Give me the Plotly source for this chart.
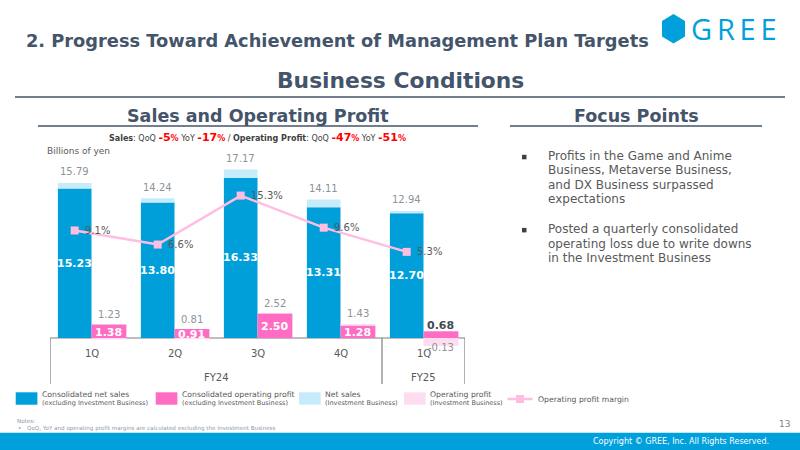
import plotly.graph_objects as go

# ---------------- data ----------------
quarters = ["1Q", "2Q", "3Q", "4Q", "1Q"]
fiscal_years = ["FY24", "FY25"]
fy_quarter_counts = [4, 1]
sales_ex_inv = [15.23, 13.80, 16.33, 13.31, 12.70]     # Consolidated net sales (excl. Investment)
sales_total = [15.79, 14.24, 17.17, 14.11, 12.94]      # incl. Investment Business
op_ex_inv = [1.38, 0.91, 2.50, 1.28, 0.68]             # Consolidated operating profit (excl. Investment)
op_total = [1.23, 0.81, 2.52, 1.43, -0.13]             # incl. Investment Business
op_margin = [9.1, 6.6, 15.3, 9.6, 5.3]                 # Operating profit margin (%)

focus_points = [
    ["Profits in the Game and Anime", "Business, Metaverse Business,",
     "and DX Business surpassed", "expectations"],
    ["Posted a quarterly consolidated", "operating loss due to write downs",
     "in the Investment Business"],
]

# ---------------- style ----------------
W, H = 800, 450
FONT = "DejaVu Sans"
DARK_BLUE = "#009FDA"
LIGHT_BLUE = "#C6ECFB"
PINK = "#FF6CC4"
LIGHT_PINK = "#FFDDF0"
LINE_PINK = "#FFBDE2"
SLATE = "#44546A"
TXT = "#595959"
LBL_GRAY = "#8C939C"
GREE_BLUE = "#00A0DC"


def px(x):
    return x / W


def py(y):
    return 1 - y / H


xs = list(range(len(quarters)))
SALES_OFF, SALES_W = -0.405, 0.405
OP_OFF, OP_W = 0.0, 0.42
sales_x = [i + SALES_OFF + SALES_W / 2 for i in xs]
op_x = [i + OP_OFF + OP_W / 2 for i in xs]
sales_inv = [round(t - e, 2) for t, e in zip(sales_total, sales_ex_inv)]
op_inv = [round(t - e, 2) for t, e in zip(op_total, op_ex_inv)]
op_inv_base = [e if v >= 0 else 0 for e, v in zip(op_ex_inv, op_inv)]

fig = go.Figure()
fig.add_bar(x=xs, y=sales_ex_inv, offset=SALES_OFF, width=SALES_W,
            marker=dict(color=DARK_BLUE, line_width=0), hoverinfo="skip")
fig.add_bar(x=xs, y=sales_inv, base=sales_ex_inv, offset=SALES_OFF, width=SALES_W,
            marker=dict(color=LIGHT_BLUE, line_width=0), hoverinfo="skip")
fig.add_bar(x=xs, y=op_ex_inv, offset=OP_OFF, width=OP_W,
            marker=dict(color=PINK, line_width=0), hoverinfo="skip")
fig.add_bar(x=xs, y=op_inv, base=op_inv_base, offset=OP_OFF, width=OP_W,
            marker=dict(color=LIGHT_PINK, line_width=0), hoverinfo="skip")
fig.add_scatter(x=sales_x, y=op_margin, yaxis="y2", mode="lines+markers",
                line=dict(color=LINE_PINK, width=2.5),
                marker=dict(symbol="square", size=8, color=LINE_PINK),
                hoverinfo="skip")

ann = []
shapes = []


def A(text, x, y, size, color=TXT, xanchor="center", yanchor="middle",
      xref="paper", yref="paper", bold=False, family=FONT, **kw):
    if bold:
        text = f"<b>{text}</b>"
    ann.append(dict(text=text, x=x, y=y, xref=xref, yref=yref, showarrow=False,
                    xanchor=xanchor, yanchor=yanchor,
                    font=dict(family=family, size=size, color=color), **kw))


# data labels
for i in xs:
    A(f"{sales_total[i]:.2f}", sales_x[i], sales_total[i], 10, LBL_GRAY,
      xref="x", yref="y", yshift=11)
    A(f"{sales_ex_inv[i]:.2f}", sales_x[i], sales_ex_inv[i] / 2, 11, "white",
      xref="x", yref="y", bold=True)
    if op_total[i] >= 0:
        A(f"{op_ex_inv[i]:.2f}", op_x[i], op_ex_inv[i] / 2, 11, "white",
          xref="x", yref="y", bold=True, yshift=-1)
        A(f"{op_total[i]:.2f}", op_x[i], max(op_ex_inv[i], op_total[i]), 10, LBL_GRAY,
          xref="x", yref="y", yshift=10)
    else:
        A(f"{op_ex_inv[i]:.2f}", op_x[i], op_ex_inv[i], 11, "#3F4A55",
          xref="x", yref="y", bold=True, yshift=6)
        A(f"{op_total[i]:.2f}", op_x[i], op_total[i], 10, LBL_GRAY,
          xref="x", yref="y", yshift=-8.5)
    A(f"{op_margin[i]:.1f}%", sales_x[i], op_margin[i], 10, TXT,
      xanchor="left", xref="x", yref="y2", xshift=8)
    A(quarters[i], i, py(353.5), 10, TXT, xref="x")

# fiscal-year labels and category box
start = -0.5
shapes.append(dict(type="line", xref="x", yref="paper", x0=start, x1=start,
                   y0=py(338), y1=py(384), line=dict(color="#7F7F7F", width=1.2)))
for fy, n in zip(fiscal_years, fy_quarter_counts):
    end = start + n
    A(fy, (start + end) / 2, py(377), 10, TXT, xref="x")
    shapes.append(dict(type="line", xref="x", yref="paper", x0=end, x1=end,
                       y0=py(338), y1=py(384), line=dict(color="#7F7F7F", width=1.2)))
    start = end
shapes.append(dict(type="line", xref="x", yref="y", x0=-0.5, x1=start, y0=0, y1=0,
                   line=dict(color="#7F7F7F", width=1.2), layer="below"))

# ---------------- page decorations ----------------
A("2. Progress Toward Achievement of Management Plan Targets", px(24), py(40), 17.8,
  SLATE, xanchor="left", bold=True)
A("Business Conditions", px(400), py(80), 21.8, SLATE, bold=True)
shapes.append(dict(type="line", xref="paper", yref="paper", x0=px(15), x1=px(785),
                   y0=py(97), y1=py(97), line=dict(color=SLATE, width=1.5)))
A("Sales and Operating Profit", px(258), py(116), 17.5, SLATE, bold=True)
shapes.append(dict(type="line", xref="paper", yref="paper", x0=px(38), x1=px(478),
                   y0=py(126), y1=py(126), line=dict(color=SLATE, width=1.3)))
A("Focus Points", px(636.5), py(116), 17.5, SLATE, bold=True)
shapes.append(dict(type="line", xref="paper", yref="paper", x0=px(510), x1=px(762),
                   y0=py(126), y1=py(126), line=dict(color=SLATE, width=1.3)))

red = "#FF0000"


def redpct(v):
    return (f"<span style='color:{red};font-size:11px'><b>{v}</b></span>"
            f"<span style='color:{red};font-size:8px'><b>%</b></span>")


subtitle = ("<b>Sales</b>: QoQ " + redpct("-5") + " YoY " + redpct("-17") +
            " / <b>Operating Profit</b>: QoQ " + redpct("-47") + " YoY " + redpct("-51"))
A(subtitle, px(257), py(137.5), 8, "#404040")
A("Billions of yen", px(45), py(150.5), 9, TXT, xanchor="left")

# GREE logo
hx = [673.5, 685, 685, 673.5, 662, 662]
hy = [14, 21, 36.5, 43.5, 36.5, 21]
path = "M " + " L ".join(f"{px(a)},{py(b)}" for a, b in zip(hx, hy)) + " Z"
shapes.append(dict(type="path", xref="paper", yref="paper", path=path,
                   fillcolor=GREE_BLUE, line=dict(width=0)))
A("G\u2009R\u2009E\u2009E", px(689), py(28.5), 29, GREE_BLUE, xanchor="left",
  family="Open Sans")

# focus points
y0 = 156
for bi, lines in enumerate(focus_points):
    shapes.append(dict(type="rect", xref="paper", yref="paper", x0=px(522), x1=px(526.5),
                       y0=py(y0 + 3.3), y1=py(y0 - 1.2), fillcolor="#404040",
                       line=dict(width=0)))
    for li, t in enumerate(lines):
        A(t, px(546), py(y0 + li * 14.4), 12, TXT, xanchor="left")
    y0 += len(lines) * 14.4 + 15.5

# legend (manual)
leg = [
    (DARK_BLUE, "Consolidated net sales", "(excluding Investment Business)", 15.7),
    (PINK, "Consolidated operating profit", "(excluding Investment Business)", 155.7),
    (LIGHT_BLUE, "Net sales", "(Investment Business)", 299),
    (LIGHT_PINK, "Operating profit", "(Investment Business)", 404),
]
for col, l1, l2, lx in leg:
    shapes.append(dict(type="rect", xref="paper", yref="paper", x0=px(lx), x1=px(lx + 21.7),
                       y0=py(404.7), y1=py(392.3), fillcolor=col, line=dict(width=0)))
    A(l1, px(lx + 24), py(394.7), 7.7, TXT, xanchor="left")
    A(l2, px(lx + 24), py(403.2), 6.5, TXT, xanchor="left")
shapes.append(dict(type="line", xref="paper", yref="paper", x0=px(507.5), x1=px(532.5),
                   y0=py(399), y1=py(399), line=dict(color=LINE_PINK, width=2.5)))
shapes.append(dict(type="rect", xref="paper", yref="paper", x0=px(516), x1=px(524),
                   y0=py(403), y1=py(395), fillcolor=LINE_PINK, line=dict(width=0)))
A("Operating profit margin", px(536), py(399), 7.7, TXT, xanchor="left")

# notes + footer
A("Notes:", px(15), py(420.7), 5.6, "#8C9AAB", xanchor="left")
A("\u2022", px(15.5), py(428), 5.6, "#8C9AAB", xanchor="left")
A("QoQ, YoY and operating profit margins are calculated excluding the Investment Business",
  px(24.5), py(428), 5.6, "#8C9AAB", xanchor="left")
A("13", px(792), py(424), 9, "#7F7F7F", xanchor="right")
shapes.append(dict(type="rect", xref="paper", yref="paper", x0=0, x1=1,
                   y0=0, y1=py(432.7), fillcolor=GREE_BLUE, line=dict(width=0)))
A("Copyright \u00a9 GREE, Inc. All Rights Reserved.", px(771), py(441.5), 8, "white",
  xanchor="right")

fig.update_layout(
    width=W, height=H, margin=dict(l=0, r=0, t=0, b=0),
    paper_bgcolor="white", plot_bgcolor="rgba(0,0,0,0)",
    barmode="overlay", showlegend=False,
    xaxis=dict(domain=[px(50), px(465)], range=[-0.5, 4.5], visible=False, fixedrange=True),
    yaxis=dict(domain=[py(350), py(140)], range=[-12 / 9.82, 198 / 9.82], visible=False,
               fixedrange=True),
    yaxis2=dict(domain=[py(350), py(140)], overlaying="y", range=[-12.13, 25.17],
                visible=False, fixedrange=True),
    annotations=ann, shapes=shapes,
    font=dict(family=FONT),
)

fig.write_html("out.html", config=dict(displayModeBar=False, staticPlot=True))
